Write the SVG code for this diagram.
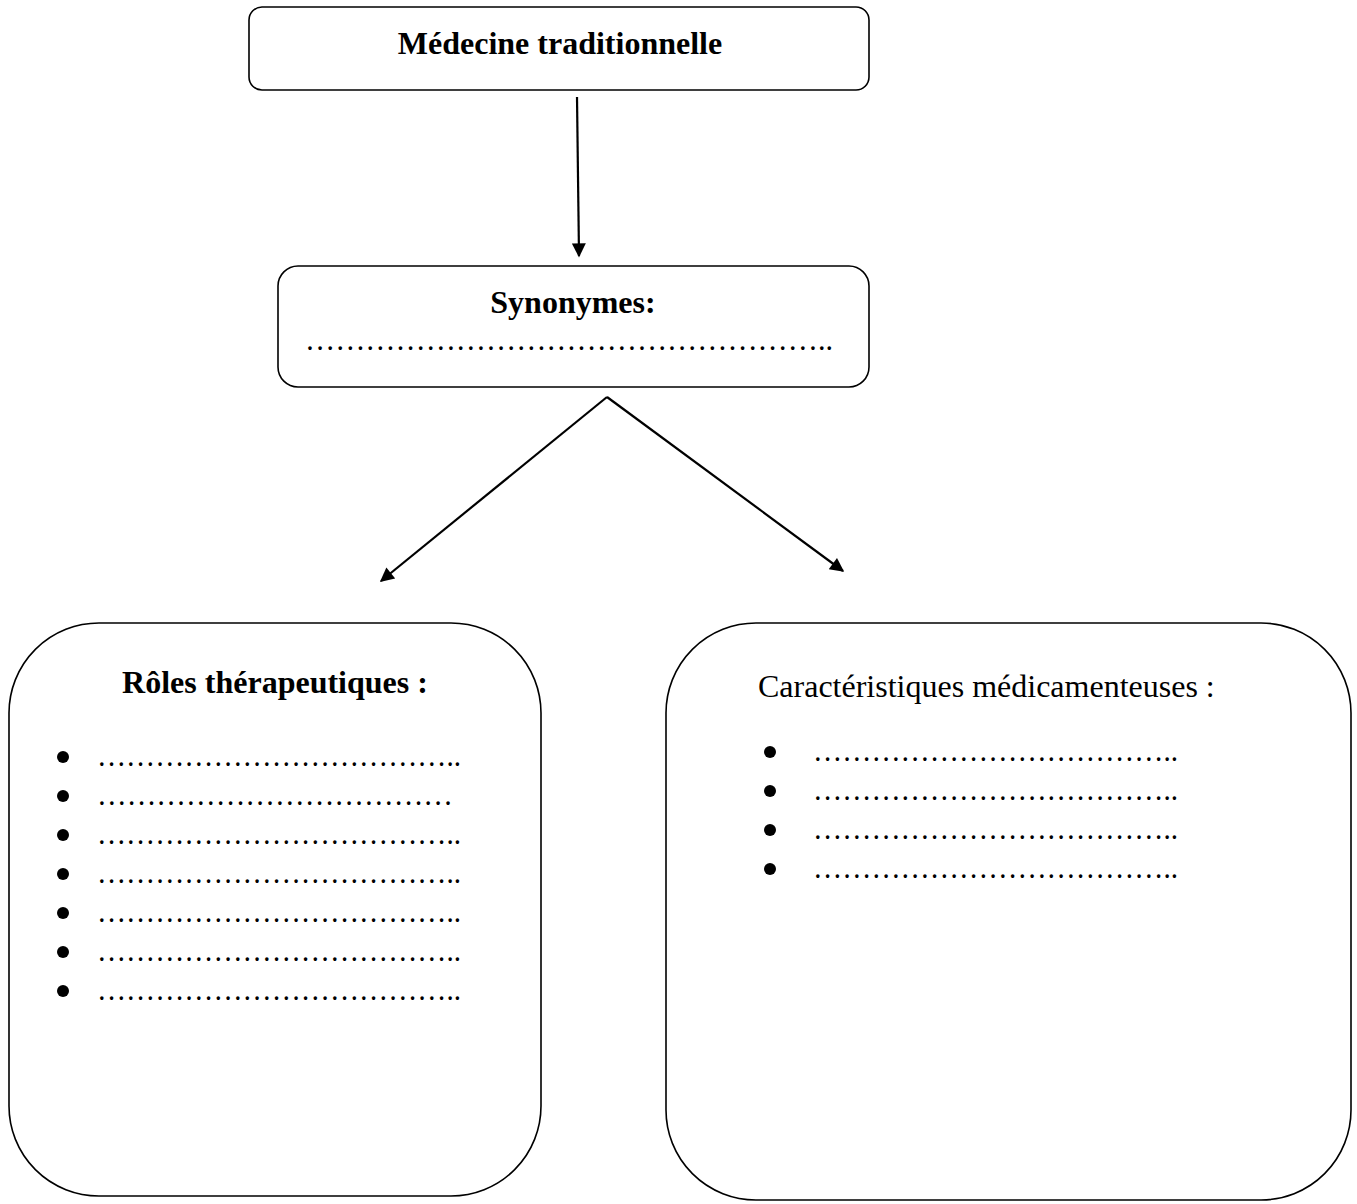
<svg xmlns="http://www.w3.org/2000/svg" width="1357" height="1204" viewBox="0 0 1357 1204">
<defs>
<style>
.box{fill:#fff;stroke:#000;stroke-width:1.6}
.t{font-family:"Liberation Serif","Times New Roman",serif;fill:#000;font-size:32px}
.b{font-weight:bold}
.dots{font-family:"Liberation Serif","Times New Roman",serif;font-size:32px;fill:#000}
.conn{stroke:#000;stroke-width:2.2;fill:none}
</style>
<marker id="ah2" viewBox="0 0 10 10" refX="9" refY="5" markerWidth="18" markerHeight="14" orient="auto" markerUnits="userSpaceOnUse">
<path d="M0,0 L10,5 L0,10 z" fill="#000"/>
</marker>
</defs>
<rect width="1357" height="1204" fill="#fff"/>
<g id="connectors">
<line class="conn" x1="577" y1="97" x2="579" y2="256" marker-end="url(#ah2)"/>
<line class="conn" x1="607" y1="397" x2="381" y2="581" marker-end="url(#ah2)"/>
<line class="conn" x1="607" y1="397" x2="843" y2="571" marker-end="url(#ah2)"/>
</g>
<g id="node-medecine">
<rect class="box" x="249" y="7" width="620" height="83" rx="13"/>
<text class="t b" x="560" y="54" text-anchor="middle">Médecine traditionnelle</text>
</g>
<g id="node-synonymes">
<rect class="box" x="278" y="266" width="591" height="121" rx="20"/>
<text class="t b" x="573" y="313" text-anchor="middle">Synonymes:</text>
<text class="dots" x="305" y="350" textLength="528" lengthAdjust="spacingAndGlyphs">……………………………………………..</text>
</g>
<g id="node-roles">
<rect class="box" x="9" y="623" width="532" height="573" rx="90"/>
<text class="t b" x="275" y="693" text-anchor="middle">Rôles thérapeutiques :</text>
<circle cx="63" cy="757" r="6"/><text class="dots" x="97" y="766" textLength="364" lengthAdjust="spacingAndGlyphs">………………………………..</text>
<circle cx="63" cy="796" r="6"/><text class="dots" x="97" y="805" textLength="356" lengthAdjust="spacingAndGlyphs">………………………………</text>
<circle cx="63" cy="835" r="6"/><text class="dots" x="97" y="844" textLength="364" lengthAdjust="spacingAndGlyphs">………………………………..</text>
<circle cx="63" cy="874" r="6"/><text class="dots" x="97" y="883" textLength="364" lengthAdjust="spacingAndGlyphs">………………………………..</text>
<circle cx="63" cy="913" r="6"/><text class="dots" x="97" y="922" textLength="364" lengthAdjust="spacingAndGlyphs">………………………………..</text>
<circle cx="63" cy="952" r="6"/><text class="dots" x="97" y="961" textLength="364" lengthAdjust="spacingAndGlyphs">………………………………..</text>
<circle cx="63" cy="991" r="6"/><text class="dots" x="97" y="1000" textLength="364" lengthAdjust="spacingAndGlyphs">………………………………..</text>
</g>
<g id="node-caracteristiques">
<rect class="box" x="666" y="623" width="685" height="577" rx="90"/>
<text class="t" x="758" y="697">Caractéristiques médicamenteuses :</text>
<circle cx="770" cy="752" r="6"/><text class="dots" x="813" y="761" textLength="365" lengthAdjust="spacingAndGlyphs">………………………………..</text>
<circle cx="770" cy="791" r="6"/><text class="dots" x="813" y="800" textLength="365" lengthAdjust="spacingAndGlyphs">………………………………..</text>
<circle cx="770" cy="830" r="6"/><text class="dots" x="813" y="839" textLength="365" lengthAdjust="spacingAndGlyphs">………………………………..</text>
<circle cx="770" cy="869" r="6"/><text class="dots" x="813" y="878" textLength="365" lengthAdjust="spacingAndGlyphs">………………………………..</text>
</g>
</svg>
